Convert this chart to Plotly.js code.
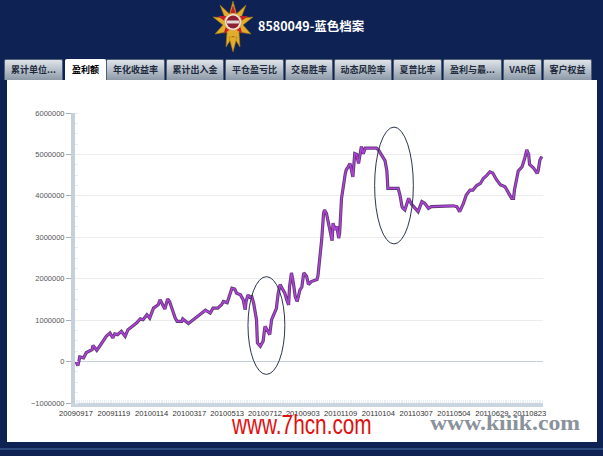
<!DOCTYPE html>
<html>
<head>
<meta charset="utf-8">
<script src="https://cdn.plot.ly/plotly-3.0.1.min.js"></script>
<style>
html,body{margin:0;padding:0;}
body{width:603px;height:456px;overflow:hidden;background:#0e2353;position:relative;font-family:"Noto Sans CJK SC","Liberation Sans",sans-serif;}
#logo{position:absolute;left:213px;top:1px;}
#title{position:absolute;left:258px;top:17px;color:#fff;font-weight:bold;font-size:12.5px;line-height:18px;white-space:nowrap;}
.tab{position:absolute;top:59px;height:21px;box-sizing:border-box;border:1px solid #4f5f78;border-bottom:none;border-radius:2px 2px 0 0;
 background:linear-gradient(#dfe3e8,#b3bcc7 55%,#8e9aa8);color:#1d2b3c;font-size:9px;line-height:20px;text-align:center;white-space:nowrap;overflow:hidden;font-weight:bold;}
.tab.active{background:#fff;color:#000;height:22px;border-color:#fff;}
#panel{position:absolute;left:7px;top:80px;width:590px;height:362px;background:#fff;}
#bottomline{position:absolute;left:0;top:448px;width:603px;height:2px;background:#2d4a7c;}
#plot{position:absolute;left:0;top:0;width:603px;height:456px;}
.wm{position:absolute;white-space:nowrap;transform-origin:0 0;}
#wm1{left:232px;top:410px;color:#e01010;font-family:"Liberation Sans Narrow","Liberation Sans",sans-serif;font-size:27px;line-height:30px;}
#wm2{left:430px;top:410px;color:#8a929c;font-family:"Liberation Serif",serif;font-weight:bold;font-size:21px;line-height:26px;}
</style>
</head>
<body>
<svg id="logo" width="40" height="52" viewBox="0 0 40 52">
  <polygon points="20,0 23.5,13 33,4 28,17 40,16 30,24 38,33 26,31 27,46 20,35 13,46 14,31 2,33 10,24 0,16 12,17 7,4 16.5,13" fill="#e2ac2c" stroke="#a87410" stroke-width="0.6"/>
  <polygon points="20,4 23.5,15 35,15 26,22 29.5,33 20,26.5 10.5,33 14,22 5,15 16.5,15" fill="#c41f2a"/>
  <polygon points="16,36 20,51 24,36" fill="#e2ac2c" stroke="#a87410" stroke-width="0.5"/>
  <circle cx="20" cy="21" r="8.5" fill="#efe4d8" stroke="#d9b050" stroke-width="1"/>
  <circle cx="20" cy="21" r="6.5" fill="#8c2233"/>
  <rect x="14" y="19.5" width="12" height="3" fill="#e4d6d6"/>
</svg>
<div id="title">8580049-蓝色档案</div>
<div id="tabs"></div>
<div id="panel"></div>
<div id="bottomline"></div>
<div id="plot"></div>
<div class="wm" id="wm1">www.7hcn.com</div>
<div class="wm" id="wm2">www.kiiik.com</div>
<script>
// ---- data ----
var tabLabels = ["累计单位...","盈利额","年化收益率","累计出入金","平仓盈亏比","交易胜率","动态风险率","夏普比率","盈利与最...","VAR值","客户权益"];
var tickLabels = ["20090917","20091119","20100114","20100317","20100513","20100712","20100903","20101109","20110104","20110307","20110504","20110629","20110823"];
// trading-day index of each vertex
var dayIndex = [0,2,4,8,11,17,18,22,25,32,
36,39,41,44,48,52,55,64,68,71,
75,78,82,87,89,94,97,99,105,107,
112,113,119,124,128,133,137,142,145,150,
154,156,160,165,168,170,174,177,179,180,
182,184,186,188,191,192,195,198,200,203,
205,207,211,212,214,216,219,221,223,225,
226,228,230,232,234,235,237,239,241,244,
246,249,255,256,260,262,263,265,267,269,
271,272,274,276,278,279,281,285,286,288,
290,293,295,297,299,302,304,306,318,320,
323,327,329,330,341,343,345,346,348,350,
352,355,359,362,366,369,373,376,399,403,
406,410,413,417,420,424,428,431,435,438,
441,445,449,454,458,461,463,464,468,472,
475,477,479,480,484,488,489,491,493];
// profit (yuan)
var profit = [0,-100000,110000,90000,220000,290000,390000,270000,370000,610000,
690000,570000,670000,650000,730000,610000,770000,930000,1030000,1010000,
1130000,1050000,1290000,1370000,1490000,1270000,1510000,1450000,1050000,970000,
970000,1030000,920000,1010000,1090000,1170000,1240000,1170000,1290000,1290000,
1370000,1450000,1420000,1770000,1750000,1650000,1610000,1490000,1250000,1450000,
1610000,1550000,1570000,1410000,1010000,450000,370000,490000,850000,730000,
650000,1010000,1250000,1280000,1650000,1860000,1730000,1650000,1490000,1370000,
1810000,2140000,1900000,1570000,1450000,1550000,1730000,1800000,2140000,2060000,
1860000,1930000,1980000,2060000,2940000,3580000,3660000,3580000,3340000,3100000,
2920000,3340000,3180000,3260000,2980000,3100000,3940000,4540000,4630000,4700000,
4780000,4460000,5020000,5000000,4780000,5190000,5020000,5150000,5150000,5110000,
4990000,4850000,4600000,4180000,4180000,4000000,3740000,3700000,3660000,3800000,
3940000,3800000,3700000,3620000,3860000,3820000,3700000,3740000,3760000,3740000,
3620000,3820000,4020000,4140000,4140000,4250000,4300000,4420000,4500000,4580000,
4550000,4390000,4270000,4220000,4060000,3940000,3940000,4140000,4600000,4700000,
4920000,5110000,5000000,4760000,4680000,4540000,4600000,4870000,4950000];
var tickStep = 40;

// ---- tabs ----
var tabBox = [[4,59],[65,41],[106,59],[166,58],[225,59],[285,48],[334,58],[393,49],[443,59],[503,39],[543,49]];
var tabsEl = document.getElementById('tabs');
tabLabels.forEach(function(t,i){
  var d=document.createElement('div');
  d.className='tab'+(i===1?' active':'');
  d.style.left=tabBox[i][0]+'px'; d.style.width=tabBox[i][1]+'px';
  d.textContent=t; tabsEl.appendChild(d);
});

// ---- watermark fitting ----
function fit(id,w){var e=document.getElementById(id);var s=w/e.scrollWidth;e.style.transform='scaleX('+s+')';}
fit('wm1',140); fit('wm2',150);

// ---- chart ----
var tickVals = tickLabels.map(function(_,i){return i*tickStep;});
var shadow = {x:dayIndex,y:profit,type:'scatter',mode:'lines',line:{color:'#5e3d70',width:3.2},hoverinfo:'skip'};
var main = {x:dayIndex,y:profit,type:'scatter',mode:'lines',line:{color:'#b63fe2',width:1.4},hoverinfo:'skip'};
var layout = {
  width:603,height:456,
  margin:{l:75,r:60,t:113,b:53,pad:0},
  paper_bgcolor:'rgba(0,0,0,0)',plot_bgcolor:'rgba(0,0,0,0)',
  showlegend:false,
  xaxis:{range:[-1.06,494.2],tickmode:'array',tickvals:tickVals,ticktext:tickLabels,tickangle:0,
    showgrid:false,zeroline:false,showline:true,linecolor:'#cbd5df',linewidth:4,
    ticks:'',tickfont:{family:'Liberation Sans',size:7.6,color:'#333'},
    minor:{dtick:2,ticks:'inside',ticklen:3,tickcolor:'#e9eef3',tickwidth:1,showgrid:false}},
  yaxis:{range:[-1000000,6000000],tickmode:'linear',tick0:0,dtick:1000000,tickformat:'d',
    showgrid:true,gridcolor:'#ececec',gridwidth:1,zeroline:true,zerolinecolor:'#c3cfdb',zerolinewidth:1,
    showline:true,linecolor:'#c6d0da',linewidth:4,ticks:'outside',ticklen:5,tickcolor:'#a8b0b8',
    tickfont:{family:'Liberation Sans',size:7.5,color:'#555'},
    minor:{dtick:250000,ticks:'inside',ticklen:3,tickcolor:'#e8edf2',showgrid:false}},
  shapes:[
    {type:'circle',xref:'x',yref:'y',x0:182,x1:221,y0:-310000,y1:2050000,line:{color:'#2a3550',width:1}},
    {type:'circle',xref:'x',yref:'y',x0:316,x1:357,y0:2840000,y1:5660000,line:{color:'#2a3550',width:1}}
  ]
};
Plotly.newPlot('plot',[shadow,main],layout,{staticPlot:true,displayModeBar:false});
</script>
</body>
</html>
